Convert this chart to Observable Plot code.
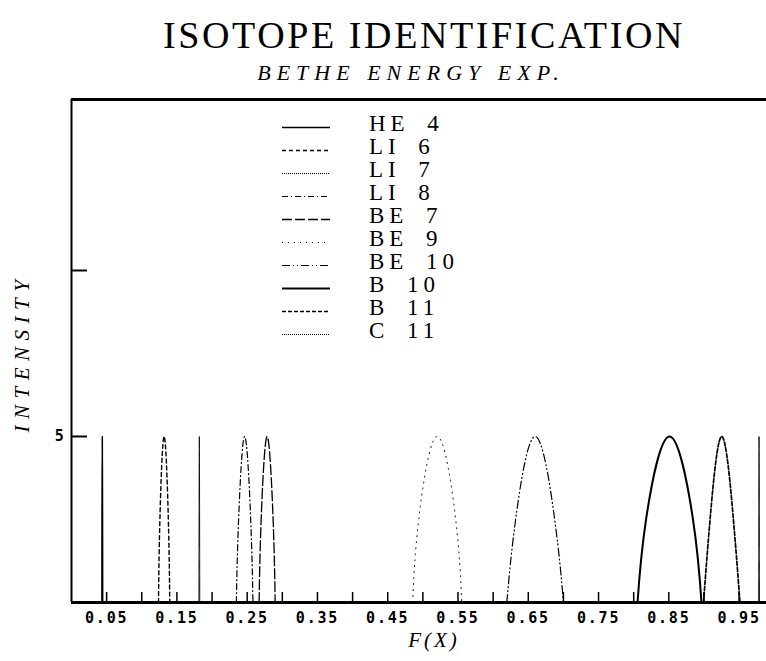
<!DOCTYPE html>
<html>
<head>
<meta charset="utf-8">
<script src="https://cdn.jsdelivr.net/npm/d3@7"></script>
<script src="https://cdn.jsdelivr.net/npm/@observablehq/plot@0.6"></script>
<style>
html,body{margin:0;padding:0;background:#fff;}
#page{position:relative;width:766px;height:661px;overflow:hidden;background:#fff;}
#head{position:relative;height:90px;}
#title{position:absolute;left:424px;top:16px;transform:translateX(-50%);white-space:nowrap;font-family:"Liberation Serif",serif;font-size:38px;letter-spacing:2.6px;line-height:1;color:#000;}
#subtitle{position:absolute;left:411px;top:62px;transform:translateX(-50%);white-space:nowrap;font-family:"Liberation Serif",serif;font-style:italic;font-size:22px;letter-spacing:6px;line-height:1;color:#000;}
#legend{position:absolute;left:270px;top:100px;}
#legend text{font-family:"Liberation Serif",serif;font-size:23px;letter-spacing:5px;word-spacing:7px;}
#chart g[aria-label="x-axis tick label"] text,#chart g[aria-label="y-axis tick label"] text{letter-spacing:1.8px;}
</style>
</head>
<body>
<div id="page">
  <div id="head">
    <div id="title">ISOTOPE IDENTIFICATION</div>
    <div id="subtitle">BETHE ENERGY EXP.</div>
  </div>
  <div id="chart"></div>
  <div id="legend"></div>
</div>
<script>
// ---- data ----
const names = ["HE 4","LI 6","LI 7","LI 8","BE 7","BE 9","BE 10","B 10","B 11","C 11"];
const centers = [0.0438,0.1318,0.1819,0.2464,0.2784,0.5204,0.6598,0.8510,0.9253,0.9784];
const footHalfWidths = [0.0006,0.0080,0.0006,0.0118,0.0114,0.0349,0.0403,0.0455,0.0259,0.0006];
const midHalfWidths = [0.0004,0.0060,0.0004,0.0086,0.0085,0.0263,0.0278,0.0334,0.0166,0.0004];
const peakHeights = [5,5,5,5,5,5,5,5,5,5];
const xTicks = [0.05,0.10,0.15,0.20,0.25,0.30,0.35,0.40,0.45,0.50,0.55,0.60,0.65,0.70,0.75,0.80,0.85,0.90,0.95];
const xLabelTicks = [0.05,0.15,0.25,0.35,0.45,0.55,0.65,0.75,0.85,0.95];
const xTickLabels = ["0.05","0.15","0.25","0.35","0.45","0.55","0.65","0.75","0.85","0.95"];
const yTicks = [5,10];
const yLabelTicks = [5];
const yTickLabels = ["5"];
const xAxisTitle = "F(X)";
const yAxisTitle = "INTENSITY";
const xDomain = [0, 0.989];
const yDomain = [0, 15.15];

// ---- styles ----
const dashes = ["none","4,3","1,1","6,3,1,3","10,3","1,5","8,3,1,3,1,3","none","4,2","1,1"];
const widths = [1.5,1.4,1,1.2,1.3,1,1.2,2,1.7,1];

// peak outline rows: foot, half height, top, half height, foot
const peaks = names.map((name,i)=>{
  const c=centers[i], f=footHalfWidths[i], m=midHalfWidths[i], h=peakHeights[i];
  return [
    {name,x:c-f,y:0},{name,x:c-m,y:h/2},{name,x:c,y:h},{name,x:c+m,y:h/2},{name,x:c+f,y:0}
  ];
});

const tickFont = {fontFamily:"DejaVu Sans Mono",fontWeight:"bold",fontSize:15};

const chart = Plot.plot({
  width:766, height:571,
  marginTop:9, marginBottom:59, marginLeft:71, marginRight:0,
  x:{domain:xDomain, label:null},
  y:{domain:yDomain, label:null},
  marks:[
    ...peaks.map((rows,i)=>Plot.line(rows,{x:"x",y:"y",curve:"natural",stroke:"black",strokeWidth:widths[i],strokeDasharray:dashes[i]})),
    Plot.ruleX([xDomain[0]],{stroke:"black",strokeWidth:2}),
    Plot.ruleY([yDomain[0]],{stroke:"black",strokeWidth:3}),
    Plot.ruleY([yDomain[1]],{stroke:"black",strokeWidth:3}),
    Plot.axisX({ticks:xTicks,tickSize:-10,tickFormat:()=>"",label:null,strokeWidth:1.5}),
    Plot.axisX({ticks:xLabelTicks,tickSize:0,tickPadding:10,tickFormat:(d,i)=>xTickLabels[i],label:null,...tickFont}),
    Plot.axisY({ticks:yTicks,tickSize:-16,tickFormat:()=>"",label:null,strokeWidth:2}),
    Plot.axisY({ticks:yLabelTicks,tickSize:0,tickPadding:6,tickFormat:(d,i)=>yTickLabels[i],label:null,...tickFont}),
    Plot.text([xAxisTitle],{text:d=>d,frameAnchor:"bottom",lineAnchor:"middle",textAnchor:"middle",dy:38,dx:15,fontFamily:"Liberation Serif",fontStyle:"italic",fontSize:21}),
    Plot.text([yAxisTitle],{text:d=>d,frameAnchor:"left",lineAnchor:"middle",textAnchor:"middle",rotate:-90,dx:-49,dy:2,fontFamily:"Liberation Serif",fontStyle:"italic",fontSize:21})
  ]
});
document.getElementById("chart").append(chart);
d3.select(chart).selectAll("text").each(function(){
  if (this.textContent === yAxisTitle) this.style.letterSpacing = "6.5px";
  if (this.textContent === xAxisTitle) this.style.letterSpacing = "3px";
});

const legend = Plot.plot({
  width:230, height:250,
  marginTop:21, marginBottom:18, marginLeft:12, marginRight:26,
  x:{domain:[0,4], axis:null},
  y:{type:"point", domain:names, padding:0, axis:null},
  marks:[
    ...names.map((n,i)=>Plot.ruleY([n],{y:d=>d,x1:0,x2:1,dy:4,stroke:"black",strokeWidth:widths[i],strokeDasharray:dashes[i]})),
    Plot.text(names,{y:d=>d,x:1.8,text:d=>d,textAnchor:"start",fill:"black"})
  ]
});
legend.style.background="transparent";
document.getElementById("legend").append(legend);
</script>
</body>
</html>
